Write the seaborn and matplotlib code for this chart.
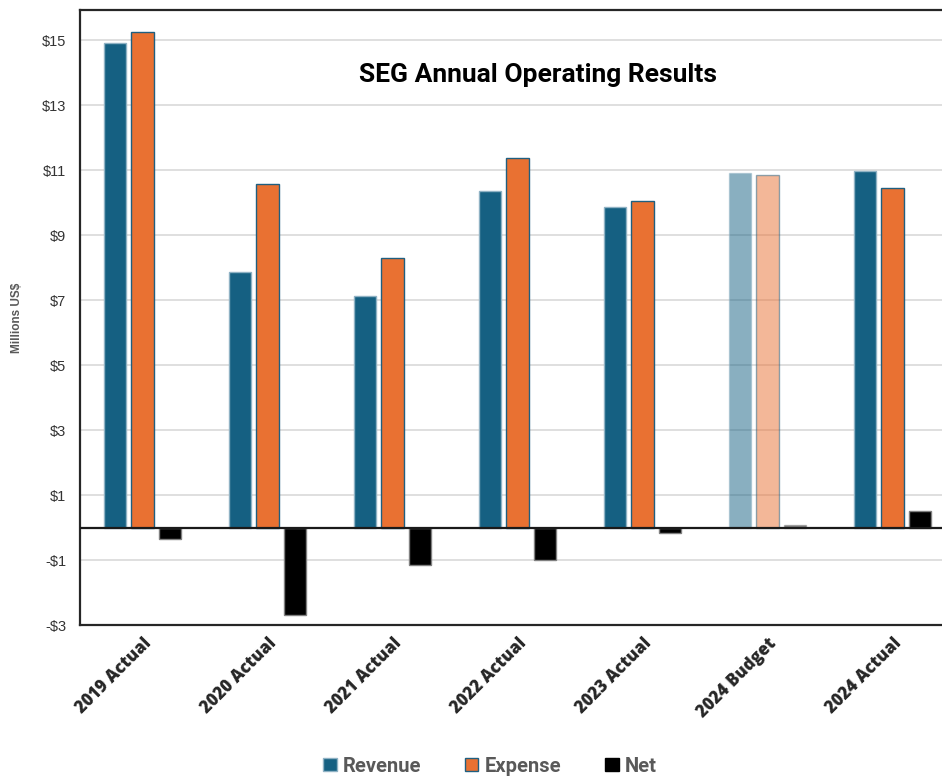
import pandas as pd
import seaborn as sns
import matplotlib.pyplot as plt
from matplotlib.patches import Patch

# values in millions US$
categories = ["2019 Actual", "2020 Actual", "2021 Actual", "2022 Actual",
              "2023 Actual", "2024 Budget", "2024 Actual"]
revenue = [14.92, 7.88, 7.13, 10.36, 9.87, 10.92, 10.98]
expense = [15.26, 10.58, 8.29, 11.37, 10.05, 10.84, 10.46]
net = [-0.34, -2.70, -1.16, -1.01, -0.18, 0.08, 0.52]
series = ["Revenue", "Expense", "Net"]
ytick_values = [-3, -1, 1, 3, 5, 7, 9, 11, 13, 15]

df = pd.DataFrame({"Category": categories, "Revenue": revenue,
                   "Expense": expense, "Net": net})
df = df.melt(id_vars="Category", var_name="Series", value_name="Value")

colors = {"Revenue": "#156082", "Expense": "#E97132", "Net": "#000000"}
edges = {"Revenue": "#8fb2c4", "Expense": "#1f5f80", "Net": "#808080"}

sns.set_style("white")
plt.rcParams["font.family"] = ["Liberation Sans", "DejaVu Sans"]

fig = plt.figure(figsize=(9.42, 7.76), dpi=100)
ax = fig.add_axes([80 / 942, 151 / 776, 875 / 942, 615 / 776])

sns.barplot(data=df, x="Category", y="Value", hue="Series", order=categories,
            hue_order=series, palette=colors, saturation=1, width=0.66, gap=0.17,
            legend=False, ax=ax, zorder=3)

# edges + faded budget bars
for cont, s in zip(ax.containers, series):
    for i, bar in enumerate(cont):
        bar.set_edgecolor(edges[s])
        bar.set_linewidth(1.0)
        if categories[i] == "2024 Budget":
            bar.set_alpha(0.5)

ax.set_xlim(-0.5, len(categories) - 0.5)
ax.set_ylim(-3, 15.93)
ax.set_yticks(ytick_values)
ax.set_yticklabels([f"-${abs(v)}" if v < 0 else f"${v}" for v in ytick_values],
                   fontsize=10.5, color="#333333")
ax.yaxis.grid(True, color="#d9d9d9", linewidth=1.2, zorder=0)
ax.set_axisbelow(True)
ax.axhline(0, color="#1a1a1a", linewidth=1.6, zorder=4)
ax.tick_params(axis="y", length=0, pad=10)
ax.tick_params(axis="x", length=0, pad=7)
ax.set_xticks(range(len(categories)))
ax.set_xticklabels(categories, rotation=45, ha="right", rotation_mode="anchor",
                   fontsize=12, fontweight="heavy", family="Open Sans")
ax.set_xlabel("")
ax.set_ylabel("Millions US$", fontsize=8.5, fontweight="bold", color="#595959")
ax.yaxis.set_label_coords(-0.065, 0.5)

for side in ["left", "top", "bottom", "right"]:
    ax.spines[side].set_color("#262626")
    ax.spines[side].set_linewidth(1.6)

ax.text(0.523, 0.894, "SEG Annual Operating Results", transform=ax.transAxes,
        ha="center", va="center", fontsize=19, fontweight="bold",
        family="Roboto", color="#000000")

handles = [Patch(facecolor=colors[s], edgecolor=edges[s] if s != "Net" else "#000000")
           for s in series]
leg = fig.legend(handles, series, loc="center", bbox_to_anchor=(490 / 942, 10 / 776),
                 ncol=3, frameon=False, handlelength=0.65, handleheight=0.65,
                 handletextpad=0.3, columnspacing=2.2,
                 prop={"family": "Roboto", "weight": "bold", "size": 14.5})
for t in leg.get_texts():
    t.set_color("#595959")

fig.savefig("out.png", dpi=100)
